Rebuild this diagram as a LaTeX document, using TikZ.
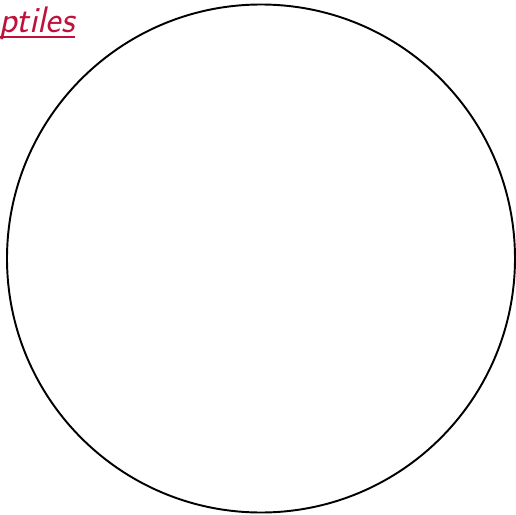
\documentclass[tikz,border=0pt]{standalone}
\usepackage{xcolor}
\usepackage{tikz}
\definecolor{reptred}{RGB}{190,18,60}

\begin{document}
\begin{tikzpicture}[scale=1.0]
    % Frame
    \useasboundingbox (0,0) rectangle (10.32,-10.30);
    \clip (0,0) rectangle (10.32,-10.30);

    % Big circle
    \draw[line width=1.1pt] (5.22,-5.17) circle (5.08);

    % Title, cut at the left edge
    \node[anchor=base east, inner sep=0pt, reptred, font=\sffamily\itshape\fontsize{21}{24}\selectfont] (title) at (1.50,-0.64) {Reptiles};
    \draw[reptred, line width=0.8pt] (title.south west |- 0,-0.74) -- (title.east |- 0,-0.74);
\end{tikzpicture}
\end{document}
